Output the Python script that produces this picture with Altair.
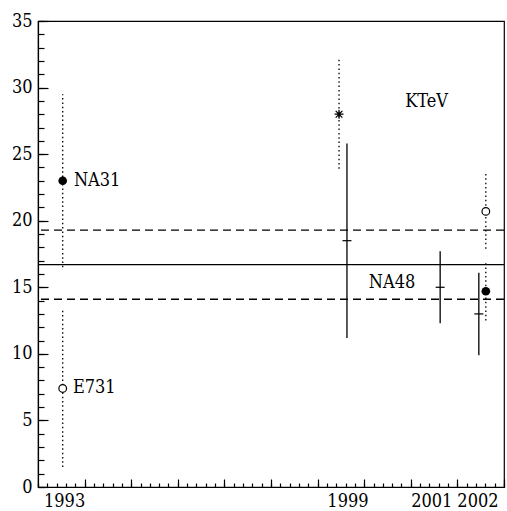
import altair as alt
import pandas as pd

FONT = "DejaVu Serif Condensed"
FS = 18
W, H = 466, 466

# --- measurements drawn with dotted error bars (marker + dotted line)
dot_names = ["NA31", "E731", "KTeV 1999", "KTeV 2002", "NA48 final"]
dot_x = [1993.03, 1993.03, 1998.96, 2002.11, 2002.11]
dot_val = [23.0, 7.4, 28.0, 20.7, 14.7]
dot_lo = [16.5, 1.5, 23.9, 17.9, 12.5]
dot_hi = [29.5, 13.3, 32.1, 23.5, 16.9]
dot_marker = ["filled", "open", "star", "open", "filled"]

# --- NA48 partial results (solid error bars with a small horizontal tick)
sol_x = [1999.13, 2001.13, 2001.96]
sol_val = [18.5, 15.0, 13.0]
sol_lo = [11.2, 12.3, 9.9]
sol_hi = [25.8, 17.7, 16.1]

# --- world average and its band
avg_val = [16.7]
band_val = [14.1, 19.3]

# --- free text labels (left edge, vertical centre)
lab_text = ["NA31", "E731", "KTeV", "NA48"]
lab_x = [1993.27, 1993.25, 2000.38, 1999.60]
lab_y = [23.0, 7.4, 28.9, 15.3]

# --- axis tick labels
x_label_pos = [1993.06, 1999.14, 2000.94, 2001.93]
y_label_vals = [0, 5, 10, 15, 20, 25, 30, 35]
x_major = [1993.5 + i for i in range(10)]
x_minor = [round(1992.5 + 0.2 * k, 2) for k in range(51)]
y_major = list(range(0, 36, 5))
y_minor = list(range(0, 36))

dots = pd.DataFrame(dict(name=dot_names, x=dot_x, v=dot_val, lo=dot_lo, hi=dot_hi, m=dot_marker))
sols = pd.DataFrame(dict(x=sol_x, v=sol_val, lo=sol_lo, hi=sol_hi))
avg = pd.DataFrame(dict(v=avg_val))
band = pd.DataFrame(dict(v=band_val))
labs = pd.DataFrame(dict(t=lab_text, x=lab_x, y=lab_y))

xs = alt.Scale(domain=[1992.5, 2002.5], nice=False, zero=False)
ys = alt.Scale(domain=[0, 35], nice=False, zero=False)

x_label_axis = alt.Axis(orient="bottom", values=x_label_pos,
                        labelExpr="format(round(datum.value), 'd')",
                        ticks=False, tickSize=0, domain=True, domainColor="black",
                        domainWidth=1.2, grid=False, labelFont=FONT, labelFontSize=FS,
                        labelColor="black", labelPadding=5, title=None,
                        labelOverlap=False, labelFlush=False)
y_label_axis = alt.Axis(orient="left", values=y_label_vals, ticks=False, tickSize=0,
                        domain=True, domainColor="black", domainWidth=1.2, grid=False,
                        labelFont=FONT, labelFontSize=FS, labelColor="black",
                        labelPadding=6, title=None, labelOverlap=False, labelFlush=False)
x_major_axis = alt.Axis(orient="top", offset=-H, values=x_major, ticks=True, tickSize=8,
                        tickColor="black", tickWidth=1.2, tickOpacity=1, labels=False,
                        domain=False, grid=False, title=None)
y_major_axis = alt.Axis(orient="right", offset=-W, values=y_major, ticks=True, tickSize=10,
                        tickColor="black", tickWidth=1.2, tickOpacity=1, labels=False,
                        domain=False, grid=False, title=None)
x_minor_axis = alt.Axis(orient="top", offset=-H, values=x_minor, ticks=True, tickSize=4,
                        tickColor="black", tickWidth=1.2, tickOpacity=1, labels=False,
                        domain=False, grid=False, title=None)
y_minor_axis = alt.Axis(orient="right", offset=-W, values=y_minor, ticks=True, tickSize=6,
                        tickColor="black", tickWidth=1.2, tickOpacity=1, labels=False,
                        domain=False, grid=False, title=None)

dotted = alt.Chart(dots).mark_rule(color="black", strokeWidth=1.3, strokeDash=[1.5, 2.8]).encode(
    x=alt.X("x:Q", scale=xs, axis=x_label_axis),
    y=alt.Y("lo:Q", scale=ys, axis=y_label_axis),
    y2="hi:Q",
)
solid = alt.Chart(sols).mark_rule(color="black", strokeWidth=1.3).encode(
    x=alt.X("x:Q", scale=xs, axis=x_major_axis),
    y=alt.Y("lo:Q", scale=ys, axis=y_major_axis),
    y2="hi:Q",
)
cticks = alt.Chart(sols).mark_tick(color="black", orient="horizontal", size=9, thickness=1.2,
                                   opacity=1).encode(
    x=alt.X("x:Q", scale=xs, axis=x_minor_axis),
    y=alt.Y("v:Q", scale=ys, axis=y_minor_axis),
)
avg_line = alt.Chart(avg).mark_rule(color="black", strokeWidth=1.3).encode(
    y=alt.Y("v:Q", scale=ys, axis=None))
band_lines = alt.Chart(band).mark_rule(color="black", strokeWidth=1.3, strokeDash=[8, 5]).encode(
    y=alt.Y("v:Q", scale=ys, axis=None))

filled = alt.Chart(dots).transform_filter("datum.m == 'filled'").mark_point(
    shape="circle", filled=True, color="black", size=75, opacity=1).encode(
    x=alt.X("x:Q", scale=xs, axis=None), y=alt.Y("v:Q", scale=ys, axis=None))
opened = alt.Chart(dots).transform_filter("datum.m == 'open'").mark_point(
    shape="circle", filled=True, fill="white", stroke="black", strokeWidth=1.2,
    size=58, opacity=1).encode(
    x=alt.X("x:Q", scale=xs, axis=None), y=alt.Y("v:Q", scale=ys, axis=None))
star = alt.Chart(dots).transform_filter("datum.m == 'star'").mark_point(
    shape="M-1,0L1,0M0,-1L0,1M-0.75,-0.75L0.75,0.75M-0.75,0.75L0.75,-0.75",
    filled=False, stroke="black", strokeWidth=1.2, size=80, opacity=1).encode(
    x=alt.X("x:Q", scale=xs, axis=None), y=alt.Y("v:Q", scale=ys, axis=None))

texts = alt.Chart(labs).mark_text(font=FONT, fontSize=FS, color="black", align="left",
                                  baseline="middle").encode(
    x=alt.X("x:Q", scale=xs, axis=None), y=alt.Y("y:Q", scale=ys, axis=None), text="t:N")

chart = alt.layer(
    band_lines, avg_line, dotted, solid, cticks, filled, opened, star, texts
).resolve_axis(x="independent", y="independent").properties(
    width=W, height=H,
    autosize=alt.AutoSizeParams(type="none"),
    padding={"left": 38, "top": 21, "right": 3, "bottom": 24},
    background="white",
).configure_view(stroke="black", strokeWidth=1.2)

chart.save("out.html", embed_options={"renderer": "svg", "actions": False})
